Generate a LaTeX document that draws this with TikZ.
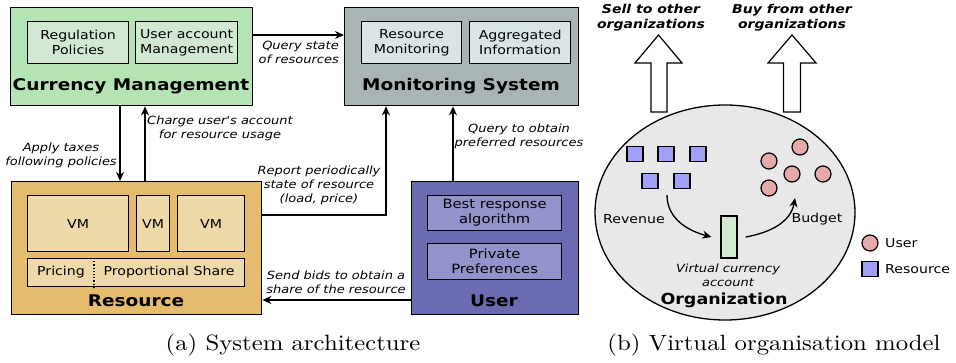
\documentclass[tikz,border=0pt]{standalone}
\usepackage{fontspec}
\newfontfamily\dv{DejaVu Sans}[FakeStretch=1.15]
\newfontfamily\capfont{lmroman10-regular.otf}[FakeStretch=1.12]
\usetikzlibrary{arrows.meta,shapes.geometric,calc}
\definecolor{cmout}{HTML}{B4E3B4}
\definecolor{cmin}{HTML}{D2E8D2}
\definecolor{msout}{HTML}{A9B5B5}
\definecolor{msin}{HTML}{D9E4E4}
\definecolor{rsout}{HTML}{E5BB6E}
\definecolor{rsin}{HTML}{F0D9A9}
\definecolor{usout}{HTML}{6B6BB1}
\definecolor{usin}{HTML}{9393CC}
\definecolor{orgfill}{HTML}{E8E8E8}
\definecolor{sqfill}{HTML}{A0A0F8}
\definecolor{cifill}{HTML}{E6AAAA}
\definecolor{accfill}{HTML}{D0E8D0}
\tikzset{
  outerbox/.style={draw, line width=1.4pt, anchor=north west, inner sep=0pt},
  innerbox/.style={draw, line width=1.3pt, anchor=north west, inner sep=0pt, align=center,
    font=\dv\fontsize{12.3}{15}\selectfont},
  userinner/.style={innerbox, font=\dv\fontsize{12.8}{15}\selectfont},
  titletext/.style={font=\dv\bfseries\fontsize{16.1}{18}\selectfont, inner sep=0pt},
  lbl/.style={font=\dv\itshape\fontsize{11.3}{14}\selectfont, align=center, inner sep=0pt},
  plaintext/.style={font=\dv\fontsize{12.3}{15}\selectfont, inner sep=0pt},
  arr/.style={line width=1.3pt, -{Stealth[length=9pt,width=8pt]}},
  sq/.style={draw, line width=1.2pt, fill=sqfill, minimum width=16pt, minimum height=15pt, inner sep=0pt},
  ci/.style={draw, line width=1.2pt, fill=cifill, circle, minimum size=16pt, inner sep=0pt},
  bigarrow/.style={draw, line width=1.2pt, fill=white},
  captiontext/.style={font=\capfont\fontsize{22.1}{26}\selectfont, inner sep=0pt}
}
\begin{document}
\begin{tikzpicture}[x=1pt,y=-1pt]
\useasboundingbox (0,0) rectangle (956,362);
% ---------- Currency Management
\node[outerbox, fill=cmout, minimum width=242pt, minimum height=98pt] (cm) at (10,7) {};
\node[innerbox, fill=cmin, minimum width=101pt, minimum height=42pt] (reg) at (27,21) {Regulation\\Policies};
\node[innerbox, fill=cmin, minimum width=102pt, minimum height=42pt] (uam) at (135,21) {User account\\Management};
\node[titletext] (cmt) at (131,86) {Currency Management};
% ---------- Monitoring System
\node[outerbox, fill=msout, minimum width=234pt, minimum height=98pt] (ms) at (344,7) {};
\node[innerbox, fill=msin, minimum width=100pt, minimum height=42pt] (rmon) at (361,21) {Resource\\Monitoring};
\node[innerbox, fill=msin, minimum width=101pt, minimum height=42pt] (agg) at (469,21) {Aggregated\\Information};
\node[titletext] (mst) at (461,86) {Monitoring System};
% ---------- Resource
\node[outerbox, fill=rsout, minimum width=250pt, minimum height=133pt] (res) at (11,181) {};
\node[innerbox, fill=rsin, minimum width=101pt, minimum height=56pt] (vm1) at (27,195) {VM};
\node[innerbox, fill=rsin, minimum width=33pt, minimum height=56pt] (vm2) at (136,195) {VM};
\node[innerbox, fill=rsin, minimum width=67pt, minimum height=56pt] (vm3) at (177,195) {VM};
\node[innerbox, fill=rsin, minimum width=217pt, minimum height=28pt] (pr) at (27,258) {};
\coordinate (xD) at (94,0);
\draw[line width=1.2pt, dotted] (pr.north -| xD) -- (pr.south -| xD);
\node[plaintext] (pric) at (61,272) {Pricing};
\node[plaintext] (prop) at (169,272) {Proportional Share};
\node[titletext] (rest) at (136,301) {Resource};
% ---------- User
\node[outerbox, fill=usout, minimum width=167pt, minimum height=133pt] (usr) at (411,181) {};
\node[userinner, fill=usin, minimum width=134pt, minimum height=35pt] (best) at (427,195) {Best response\\algorithm};
\node[userinner, fill=usin, minimum width=134pt, minimum height=36pt] (priv) at (427,243) {Private\\Preferences};
\node[titletext] (ust) at (494,301) {User};
% ---------- connectors
\coordinate (xA) at (120,0);
\coordinate (xC) at (145,0);
\coordinate (xR) at (386,0);
\coordinate (xQ) at (453,0);
\coordinate (yQs) at (0,35);
\coordinate (yRep) at (0,215);
\coordinate (yBid) at (0,300);
\draw[arr] (cm.east |- yQs) -- (ms.west |- yQs);
\draw[arr] (cm.south -| xA) -- (res.north -| xA);
\draw[arr] (res.north -| xC) -- (cm.south -| xC);
\draw[arr] (res.east |- yRep) -| (ms.south -| xR);
\draw[arr] (usr.north -| xQ) -- (ms.south -| xQ);
\draw[arr] (usr.west |- yBid) -- (res.east |- yBid);
\node[lbl, align=right, anchor=east] (lq) at (339,52) {Query state\\of resources};
\node[lbl] (la) at (61,155) {Apply taxes\\following policies};
\node[lbl] (lc) at (220,128) {Charge user's account\\for resource usage};
\node[lbl] (lr) at (319,185) {Report periodically\\state of resource\\(load, price)};
\node[lbl] (lp) at (519,136) {Query to obtain\\preferred resources};
\node[lbl] (lb) at (336,282) {Send bids to obtain a\\share of the resource};
\node[captiontext] (capa) at (293,345) {(a) System architecture};
% ---------- Right panel
\node[draw, line width=1.3pt, fill=orgfill, ellipse, minimum width=260pt, minimum height=215pt, inner sep=0pt] (org) at (725,212.5) {};
\draw[bigarrow] (658.5,35) -- (682,63) -- (667,63) -- (667,112) -- (651,112) -- (651,63) -- (635,63) -- cycle;
\draw[bigarrow] (792,35) -- (816,63) -- (800.5,63) -- (800.5,112) -- (783.5,112) -- (783.5,63) -- (768,63) -- cycle;
\node[font=\dv\bfseries\itshape\fontsize{12.2}{15}\selectfont, align=center, inner sep=0pt] (sell) at (651,17.5) {Sell to other\\organizations};
\node[font=\dv\bfseries\itshape\fontsize{12.2}{15}\selectfont, align=center, inner sep=0pt] (buy) at (792,17.5) {Buy from other\\organizations};
\node[sq] (s1) at (635,154) {};
\node[sq] (s2) at (666,154) {};
\node[sq] (s3) at (698,154) {};
\node[sq] (s4) at (650,181) {};
\node[sq] (s5) at (682,181) {};
\node[ci] (c1) at (800,147) {};
\node[ci] (c2) at (769,161) {};
\node[ci] (c3) at (792,174) {};
\node[ci] (c4) at (823,174) {};
\node[ci] (c5) at (769,188) {};
\node[draw, line width=1.2pt, fill=accfill, minimum width=16pt, minimum height=42pt, inner sep=0pt] (acc) at (729,237) {};
\coordinate (revs) at (667,195);
\coordinate (bude) at (795,198);
\draw[arr] (revs) to[out=-90, in=165] ([xshift=-9pt]acc.west);
\draw[arr] ([xshift=8pt]acc.east) to[out=10, in=-100] (bude);
\node[plaintext] (rev) at (634,219) {Revenue};
\node[plaintext] (bud) at (817,219) {Budget};
\node[lbl] (vca) at (728,275) {Virtual currency\\account};
\node[font=\dv\bfseries\fontsize{15.2}{18}\selectfont, inner sep=0pt] (orgt) at (724,300) {Organization};
\node[ci] (lu) at (870,243) {};
\node[plaintext, anchor=west] (lut) at (885,243) {User};
\node[sq] (lr2) at (870,269) {};
\node[plaintext, anchor=west] (lrt) at (885,269) {Resource};
\node[captiontext] (capb) at (774,345) {(b) Virtual organisation model};
\end{tikzpicture}
\end{document}
